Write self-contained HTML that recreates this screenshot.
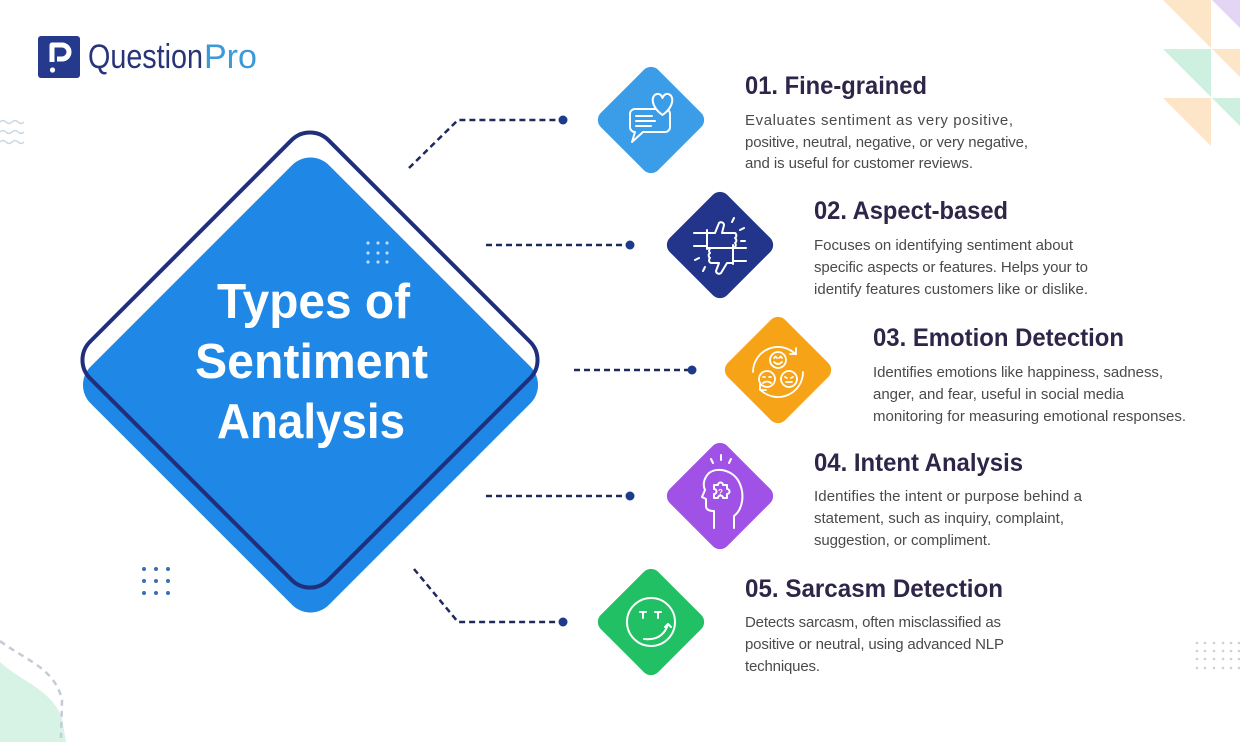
<!DOCTYPE html>
<html><head><meta charset="utf-8"><style>
html,body{margin:0;padding:0;background:#fff;}
svg{display:block;}
.t{font-family:"Liberation Sans",sans-serif;font-weight:bold;fill:#2e2548;font-size:25px;}
.d{font-family:"Liberation Sans",sans-serif;font-weight:normal;fill:#4a4a4a;font-size:15px;}
</style></head><body>
<svg width="1240" height="742" viewBox="0 0 1240 742" xmlns="http://www.w3.org/2000/svg">
<rect width="1240" height="742" fill="#fff"/>
<!-- top-right triangles -->
<polygon points="1163,0 1211,0 1211,48" fill="#fde5c8"/>
<polygon points="1212,0 1260,0 1260,48" fill="#e5d5f5"/>
<polygon points="1163,49 1211,49 1211,97" fill="#cdf0e0"/>
<polygon points="1212,49 1260,49 1260,97" fill="#fde5c8"/>
<polygon points="1163,98 1211,98 1211,146" fill="#fde5c8"/>
<polygon points="1212,98 1260,98 1260,146" fill="#cdf0e0"/>
<!-- waves left -->
<g fill="none" stroke="#c9d8e2" stroke-width="1.5">
<path d="M0 122 q3 -3 6 0 t6 0 t6 0 t6 0"/>
<path d="M0 132 q3 -3 6 0 t6 0 t6 0 t6 0"/>
<path d="M0 142 q3 -3 6 0 t6 0 t6 0 t6 0"/>
</g>
<!-- bottom-left blob -->
<path d="M0 662 C 22 682, 52 690, 62 718 L 66 742 L 0 742 Z" fill="#d6f3e5"/>
<path d="M0 641 C 25 660, 55 668, 62 700 L 61 738" fill="none" stroke="#c8cad8" stroke-width="2.5" stroke-dasharray="6 5"/>
<!-- dot grids -->
<g fill="#3a6fb0">
<circle cx="144" cy="569" r="2"/><circle cx="156" cy="569" r="2"/><circle cx="168" cy="569" r="2"/>
<circle cx="144" cy="581" r="2"/><circle cx="156" cy="581" r="2"/><circle cx="168" cy="581" r="2"/>
<circle cx="144" cy="593" r="2"/><circle cx="156" cy="593" r="2"/><circle cx="168" cy="593" r="2"/>
</g>
<g fill="#cfd0d8">
<circle cx="1197" cy="643" r="1.3"/><circle cx="1205" cy="643" r="1.3"/><circle cx="1214" cy="643" r="1.3"/><circle cx="1223" cy="643" r="1.3"/><circle cx="1231" cy="643" r="1.3"/><circle cx="1239" cy="643" r="1.3"/>
<circle cx="1197" cy="651" r="1.3"/><circle cx="1205" cy="651" r="1.3"/><circle cx="1214" cy="651" r="1.3"/><circle cx="1223" cy="651" r="1.3"/><circle cx="1231" cy="651" r="1.3"/><circle cx="1239" cy="651" r="1.3"/>
<circle cx="1197" cy="659" r="1.3"/><circle cx="1205" cy="659" r="1.3"/><circle cx="1214" cy="659" r="1.3"/><circle cx="1223" cy="659" r="1.3"/><circle cx="1231" cy="659" r="1.3"/><circle cx="1239" cy="659" r="1.3"/>
<circle cx="1197" cy="668" r="1.3"/><circle cx="1205" cy="668" r="1.3"/><circle cx="1214" cy="668" r="1.3"/><circle cx="1223" cy="668" r="1.3"/><circle cx="1231" cy="668" r="1.3"/><circle cx="1239" cy="668" r="1.3"/>
</g>
<!-- logo -->
<rect x="38" y="36" width="42" height="42" rx="3" fill="#253a8c"/>
<path d="M52 62 V45 H62 a7 7 0 0 1 0 14 H57" fill="none" stroke="#fff" stroke-width="5" stroke-linejoin="round"/>
<circle cx="52.5" cy="70" r="2.6" fill="#fff"/>
<text x="88" y="68" font-family="Liberation Sans, sans-serif" font-size="34" fill="#28347a" textLength="115" lengthAdjust="spacingAndGlyphs">Question</text>
<text x="204" y="68" font-family="Liberation Sans, sans-serif" font-size="34" fill="#3d9ad8">Pro</text>
<!-- main diamond -->
<rect x="-168.5" y="-168.5" width="337" height="337" rx="26" fill="#1f87e5" transform="translate(310.5,385) rotate(45)"/>
<rect x="-168.5" y="-168.5" width="337" height="337" rx="26" fill="none" stroke="#1f2f7c" stroke-width="4" transform="translate(310,360) rotate(45)"/>
<g fill="#b9dcf8">
<circle cx="368" cy="243" r="1.6"/><circle cx="378" cy="243" r="1.6"/><circle cx="387" cy="243" r="1.6"/>
<circle cx="368" cy="253" r="1.6"/><circle cx="378" cy="253" r="1.6"/><circle cx="387" cy="253" r="1.6"/>
<circle cx="368" cy="262" r="1.6"/><circle cx="378" cy="262" r="1.6"/><circle cx="387" cy="262" r="1.6"/>
</g>
<g font-family="Liberation Sans, sans-serif" font-weight="bold" font-size="49" fill="#fff">
<text x="217" y="318" textLength="193" lengthAdjust="spacingAndGlyphs">Types of</text>
<text x="195" y="378" textLength="233" lengthAdjust="spacingAndGlyphs">Sentiment</text>
<text x="217" y="438" textLength="188" lengthAdjust="spacingAndGlyphs">Analysis</text>
</g>
<!-- connectors -->
<g fill="none" stroke="#1e2a5c" stroke-width="2.5" stroke-dasharray="6 4">
<path d="M409 168 L458 120 L559 120"/>
<path d="M486 245 L626 245"/>
<path d="M574 370 L688 370"/>
<path d="M486 496 L626 496"/>
<path d="M414 569 L458 622 L559 622"/>
</g>
<g fill="#1e3a8a">
<circle cx="563" cy="120" r="4.5"/>
<circle cx="630" cy="245" r="4.5"/>
<circle cx="692" cy="370" r="4.5"/>
<circle cx="630" cy="496" r="4.5"/>
<circle cx="563" cy="622" r="4.5"/>
</g>
<!-- small diamonds -->
<rect x="-40.5" y="-40.5" width="81" height="81" rx="10" fill="#3b9de8" transform="translate(651,120) rotate(45)"/>
<rect x="-40.5" y="-40.5" width="81" height="81" rx="10" fill="#22358a" transform="translate(720,245) rotate(45)"/>
<rect x="-40.5" y="-40.5" width="81" height="81" rx="10" fill="#f7a318" transform="translate(778,370) rotate(45)"/>
<rect x="-40.5" y="-40.5" width="81" height="81" rx="10" fill="#a052e6" transform="translate(720,496) rotate(45)"/>
<rect x="-40.5" y="-40.5" width="81" height="81" rx="10" fill="#22c065" transform="translate(651,622) rotate(45)"/>
<!-- icon 1 -->
<g fill="none" stroke="#fff" stroke-width="2" stroke-linejoin="round" stroke-linecap="round">
<path d="M635 109 H665 a5 5 0 0 1 5 5 V127 a5 5 0 0 1 -5 5 H643 L632 142 L635 132 a5 5 0 0 1 -5 -5 V114 a5 5 0 0 1 5 -5 Z"/>
<path d="M636 116 H652 M636 121 H655 M636 126 H651"/>
<path d="M662.5 115 C 650 106, 651 95, 657 94 C 660 93.5, 662 96, 662.5 98 C 663 96, 665 93.5, 668 94 C 674 95, 675 106, 662.5 115 Z" fill="#3b9de8"/>
</g>
<!-- icon 2 -->
<g fill="none" stroke="#fff" stroke-width="2" stroke-linejoin="round" stroke-linecap="round">
<path d="M694 233 H707 M694 246 H707 M707 230 V249"/>
<path d="M707 233 H715 L719 223 a3 3 0 0 1 5 2 L722 233 H735 a3 3 0 0 1 0 5 a3 3 0 0 1 0 5 a3 3 0 0 1 -2 5 H707"/>
<path d="M746 248 H733 M746 261 H733 M733 245 V264"/>
<path d="M733 248 H711 a3 3 0 0 0 -1 5 a3 3 0 0 0 0 5 a3 3 0 0 0 1 5 H719 L716 271 a3 3 0 0 0 5 2 L727 263 H733"/>
<path d="M732 222 L734 218 M740 230 L744 228 M699 258 L695 260 M705 267 L703 271 M741 241 L745 241"/>
</g>
<!-- icon 3 -->
<g fill="none" stroke="#fff" stroke-width="1.8" stroke-linejoin="round" stroke-linecap="round">
<path d="M753 372 A25 25 0 0 1 795.7 354.3"/>
<path d="M790 354 L796 354 L796 348"/>
<path d="M803 372 A25 25 0 0 1 760.3 389.7"/>
<path d="M766 390 L760 390 L760 384"/>
<circle cx="778" cy="360" r="8"/>
<circle cx="767" cy="379" r="8"/>
<circle cx="789" cy="379" r="8"/>
<path d="M774 358 l1.5 -1.5 l1.5 1.5 M779 358 l1.5 -1.5 l1.5 1.5 M774 362 q4 4 8 0"/>
<path d="M763 377 h2 M769 377 h2 M763 383 q4 -3 8 0"/>
<path d="M785 377 l2 1 M793 377 l-2 1 M786 382 h6"/>
</g>
<!-- icon 4 -->
<g fill="none" stroke="#fff" stroke-width="2" stroke-linejoin="round" stroke-linecap="round">
<path d="M734 528 V516 C 743 509, 745 494, 739 482 C 733 470, 716 466, 708 474 C 703 480, 703 486, 705 490 L 702 497 L 706 499 V 506 C 706 510, 710 511, 714 511 V 528"/>
<path d="M714 485 H718 a2.5 2.5 0 0 1 5 0 H727 V489 a2.5 2.5 0 0 1 0 5 V498 H723 a2.5 2.5 0 0 0 -5 0 H714 V494 a2.5 2.5 0 0 0 0 -5 Z"/>
<path d="M721 455 V460 M711 459 L713 463 M731 459 L729 463"/>
</g>
<text x="718" y="495" font-family="Liberation Sans, sans-serif" font-size="8" font-weight="bold" fill="#fff">?</text>
<!-- icon 5 -->
<g fill="none" stroke="#fff" stroke-width="2" stroke-linejoin="round" stroke-linecap="round">
<circle cx="651" cy="622" r="24"/>
<path d="M640 612 H646 M643 612 V618 M655 612 H661 M658 612 V618"/>
<path d="M644 639 Q 663 641, 668 624"/>
<path d="M665 627 L668 624 L671 627"/>
</g>
<!-- item texts -->
<text class="t" x="745" y="94" textLength="182" lengthAdjust="spacingAndGlyphs">01. Fine-grained</text>
<text class="d" x="745" y="125" textLength="268" lengthAdjust="spacing">Evaluates sentiment as very positive,</text>
<text class="d" x="745" y="147" textLength="283" lengthAdjust="spacing">positive, neutral, negative, or very negative,</text>
<text class="d" x="745" y="168" textLength="228" lengthAdjust="spacing">and is useful for customer reviews.</text>

<text class="t" x="814" y="219" textLength="194" lengthAdjust="spacingAndGlyphs">02. Aspect-based</text>
<text class="d" x="814" y="250" textLength="259" lengthAdjust="spacing">Focuses on identifying sentiment about</text>
<text class="d" x="814" y="272" textLength="274" lengthAdjust="spacing">specific aspects or features. Helps your to</text>
<text class="d" x="814" y="294" textLength="274" lengthAdjust="spacing">identify features customers like or dislike.</text>

<text class="t" x="873" y="346" textLength="251" lengthAdjust="spacingAndGlyphs">03. Emotion Detection</text>
<text class="d" x="873" y="377" textLength="290" lengthAdjust="spacing">Identifies emotions like happiness, sadness,</text>
<text class="d" x="873" y="399" textLength="251" lengthAdjust="spacing">anger, and fear, useful in social media</text>
<text class="d" x="873" y="421" textLength="313" lengthAdjust="spacing">monitoring for measuring emotional responses.</text>

<text class="t" x="814" y="471" textLength="209" lengthAdjust="spacingAndGlyphs">04. Intent Analysis</text>
<text class="d" x="814" y="501" textLength="268" lengthAdjust="spacing">Identifies the intent or purpose behind a</text>
<text class="d" x="814" y="523" textLength="250" lengthAdjust="spacing">statement, such as inquiry, complaint,</text>
<text class="d" x="814" y="545" textLength="177" lengthAdjust="spacing">suggestion, or compliment.</text>

<text class="t" x="745" y="597" textLength="258" lengthAdjust="spacingAndGlyphs">05. Sarcasm Detection</text>
<text class="d" x="745" y="627" textLength="256" lengthAdjust="spacing">Detects sarcasm, often misclassified as</text>
<text class="d" x="745" y="649" textLength="259" lengthAdjust="spacing">positive or neutral, using advanced NLP</text>
<text class="d" x="745" y="671" textLength="75" lengthAdjust="spacing">techniques.</text>
</svg>
</body></html>
